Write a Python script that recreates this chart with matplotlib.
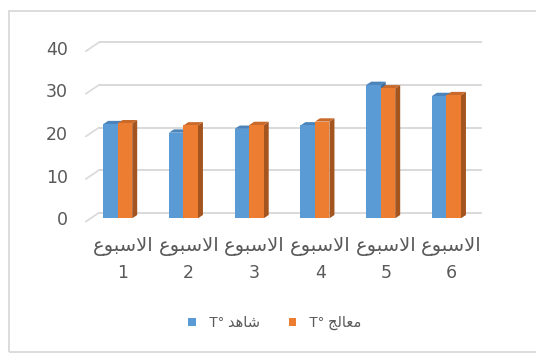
import matplotlib
matplotlib.use("Agg")
import matplotlib.pyplot as plt
from matplotlib.patches import Polygon, Patch, Rectangle

# --- data -------------------------------------------------------------
# Arabic words written in presentation forms, visual (left-to-right) order
week_word = "\uFEC9\uFEEE\uFE92\uFEB3\uFEFB\uFE8D"          # الاسبوع
week_numbers = ["1", "2", "3", "4", "5", "6"]
series_names = ["T° \uFEAA\uFEEB\uFE8E\uFEB7",                # T° شاهد
                "T° \uFE9E\uFEDF\uFE8E\uFECC\uFEE3"]          # T° معالج
control = [22.1, 20.1, 21.0, 21.8, 31.3, 28.7]
treated = [22.3, 21.8, 21.9, 22.7, 30.5, 28.9]
y_ticks = [0, 10, 20, 30, 40]

# --- style ------------------------------------------------------------
W, H = 536, 356
FONT = ["DejaVu Sans"]
LEGEND_FONT = ["Liberation Sans", "DejaVu Sans"]
TXT = "#595959"
GRID = "#D9D9D9"
faces = {
    "blue": ("#5B9BD5", "#4A84BA", "#3F6F9C"),     # front, top, side
    "orange": ("#ED7D31", "#C9692A", "#A4551F"),
}

fig = plt.figure(figsize=(W / 100, H / 100), dpi=100)
fig.patch.set_facecolor("white")

# chart border
fig.add_artist(Rectangle((8.5 / W, 4 / H), 1.2, (H - 10.5 - 4) / H,
                         transform=fig.transFigure, fill=False,
                         edgecolor=GRID, lw=1.3))

def px_axes(left, right, y0_px, y40_px):
    return fig.add_axes([left / W, (H - y0_px) / H,
                         (right - left) / W, (y0_px - y40_px) / H])

# back wall (gridlines) and front plane (bar faces)
cat_px0, cat_step = 126.0, 65.75
wall_l, wall_r = 99.0, 482.0
xlim = ((wall_l - cat_px0) / cat_step, (wall_r - cat_px0) / cat_step)
ax_wall = px_axes(wall_l, wall_r, 212.7, 42.3)
shift_x, shift_y = -8.3, 5.6
ax = px_axes(wall_l + shift_x, wall_r + shift_x, 212.7 + shift_y, 42.3 + shift_y)

for a in (ax_wall, ax):
    a.set_xlim(*xlim)
    a.set_ylim(0, 40)
    a.axis("off")
    a.patch.set_alpha(0)

ppx = cat_step                 # pixels per category unit
ppy = (212.7 - 42.3) / 40      # pixels per value unit

# gridlines plus the short diagonal on the side wall
side_dx, side_dy = -13.0 / ppx, -8.8 / ppy
for v in y_ticks:
    ax_wall.plot([xlim[0], xlim[1]], [v, v], color=GRID, lw=1.4,
                 clip_on=False, solid_capstyle="butt")
    ax_wall.plot([xlim[0] + side_dx, xlim[0]], [v + side_dy, v],
                 color=GRID, lw=1.2, clip_on=False)
    ax_wall.annotate(str(v), xy=(xlim[0] + side_dx, v - 1.3),
                     xytext=(-18, 0), textcoords="offset pixels",
                     ha="right", va="center_baseline", fontsize=12.5,
                     color=TXT, family=FONT, annotation_clip=False)

# bars with depth
bw = 14.5 / ppx
ddx, ddy = 5.0 / ppx, 3.3 / ppy

def box(x0, h, colors):
    front, top, side = colors
    x1 = x0 + bw
    ax.add_patch(Polygon([(x1, 0), (x1 + ddx, ddy), (x1 + ddx, h + ddy), (x1, h)],
                         closed=True, facecolor=side, edgecolor="none", clip_on=False))
    ax.add_patch(Polygon([(x0, h), (x1, h), (x1 + ddx, h + ddy), (x0 + ddx, h + ddy)],
                         closed=True, facecolor=top, edgecolor="none", clip_on=False))
    ax.bar(x0, h, width=bw, align="edge", color=front, linewidth=0, clip_on=False)

for i in range(len(week_numbers)):
    box(i - bw, control[i], faces["blue"])
    box(i, treated[i], faces["orange"])

# category labels (word on top, number below)
for i, num in enumerate(week_numbers):
    ax_wall.annotate(week_word, xy=(i, 0), xytext=(-3, -(247 - 212.7)),
                     textcoords="offset pixels", ha="center", va="center",
                     fontsize=14, color=TXT, family=FONT, annotation_clip=False)
    ax_wall.annotate(num, xy=(i, 0), xytext=(-3, -(272.5 - 212.7)),
                     textcoords="offset pixels", ha="center", va="center",
                     fontsize=12.5, color=TXT, family=FONT, annotation_clip=False)

# legend
handles = [Patch(facecolor=faces["blue"][0]), Patch(facecolor=faces["orange"][0])]
fig.legend(handles, series_names, ncol=2, loc="center",
           bbox_to_anchor=(275 / W, 1 - 323 / H), frameon=False,
           handlelength=0.5, handleheight=0.5, handletextpad=0.9,
           columnspacing=2.0, prop={"family": LEGEND_FONT, "size": 10.5},
           labelcolor=TXT)

fig.savefig("out.png", dpi=100, facecolor="white")
